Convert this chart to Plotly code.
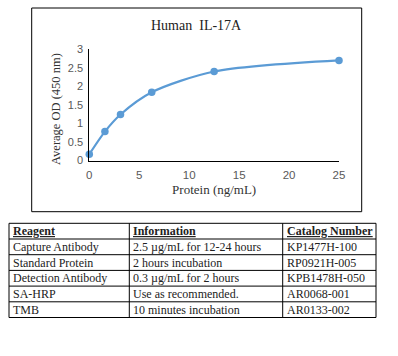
import plotly.graph_objects as go

# ---- data ----
protein = [0, 1.5625, 3.125, 6.25, 12.5, 25]
od = [0.17, 0.78, 1.24, 1.84, 2.40, 2.70]
x_ticks = [0, 5, 10, 15, 20, 25]
y_ticks = [0, 0.5, 1, 1.5, 2, 2.5, 3]
y_tick_labels = ["0", "0.5", "1", "1.5", "2", "2.5", "3"]
chart_title = "Human  IL-17A"
x_title = "Protein (ng/mL)"
y_title = "Average OD (450 nm)"

table_headers = ["Reagent", "Information", "Catalog Number"]
reagents = ["Capture Antibody", "Standard Protein", "Detection Antibody", "SA-HRP", "TMB"]
information = ["2.5 \u00b5g/mL for 12-24 hours", "2 hours incubation", "0.3 \u00b5g/mL for 2 hours",
               "Use as recommended.", "10 minutes incubation"]
catalog = ["KP1477H-100", "RP0921H-005", "KPB1478H-050", "AR0068-001", "AR0133-002"]

W, H = 398, 356
SERIF = "Liberation Serif, Times New Roman, serif"
SANS = "Liberation Sans, Arial, sans-serif"

def px(x):
    return x / W

def py(y):
    return 1 - y / H

fig = go.Figure()
fig.add_trace(go.Scatter(
    x=protein, y=od, mode="lines+markers",
    line=dict(color="#5B9BD5", width=2.2, shape="spline", smoothing=0.8),
    marker=dict(color="#5B9BD5", size=7.5),
    cliponaxis=False, showlegend=False, hoverinfo="skip"))

fig.update_layout(
    width=W, height=H, margin=dict(l=0, r=0, t=0, b=0, autoexpand=False),
    paper_bgcolor="white", plot_bgcolor="white",
    xaxis=dict(domain=[px(89.3), px(339)], range=[0, 25], tickvals=x_ticks, automargin=False,
               showgrid=False, zeroline=False, showline=True, linecolor="black", linewidth=1,
               ticks="", ticklabelstandoff=4, tickfont=dict(family=SANS, size=11.5, color="#595959"),
               title=dict(text=x_title, font=dict(family=SERIF, size=13, color="#333333"), standoff=4)),
    yaxis=dict(domain=[py(160.5), py(49.3)], range=[0, 3], tickvals=y_ticks, ticktext=y_tick_labels,
               automargin=False,
               showgrid=False, zeroline=False, showline=True, linecolor="black", linewidth=1,
               ticks="", ticklabelstandoff=3, tickfont=dict(family=SANS, size=11, color="#595959")),
)

shapes = []
annotations = []
# chart border
shapes.append(dict(type="rect", xref="paper", yref="paper",
                   x0=px(31.7), x1=px(361.7), y0=py(211.7), y1=py(8),
                   line=dict(color="black", width=1)))
annotations.append(dict(text=chart_title, xref="paper", yref="paper", x=px(196), y=py(26),
                        showarrow=False, xanchor="center", yanchor="middle",
                        font=dict(family=SERIF, size=14, color="#222222")))
# y-axis title
annotations.append(dict(text=y_title, xref="paper", yref="paper", x=px(56), y=py(109),
                        showarrow=False, textangle=-90, xanchor="center", yanchor="middle",
                        font=dict(family=SERIF, size=12.5, color="#333333")))

# table
col_edges = [9, 129.3, 282.7, 376]
row_top = 223.3
row_h = 15.7
rows = [table_headers] + [list(r) for r in zip(reagents, information, catalog)]
n_rows = len(rows)
for i in range(n_rows + 1):
    y = row_top + i * row_h
    shapes.append(dict(type="line", xref="paper", yref="paper",
                       x0=px(col_edges[0]), x1=px(col_edges[-1]), y0=py(y), y1=py(y),
                       line=dict(color="black", width=1)))
for xe in col_edges:
    shapes.append(dict(type="line", xref="paper", yref="paper",
                       x0=px(xe), x1=px(xe), y0=py(row_top), y1=py(row_top + n_rows * row_h),
                       line=dict(color="black", width=1)))
for i, row in enumerate(rows):
    yc = row_top + (i + 0.5) * row_h
    for j, cell in enumerate(row):
        txt = f"<u><b>{cell}</b></u>" if i == 0 else cell
        annotations.append(dict(text=txt, xref="paper", yref="paper",
                                x=px(col_edges[j] + 2), y=py(yc), showarrow=False,
                                xanchor="left", yanchor="middle",
                                font=dict(family=SERIF, size=12, color="#222222")))

fig.update_layout(shapes=shapes, annotations=annotations)
fig.write_html("out.html", config={"displayModeBar": False},
               post_script="document.body.style.margin='0';document.body.style.overflow='hidden';")
